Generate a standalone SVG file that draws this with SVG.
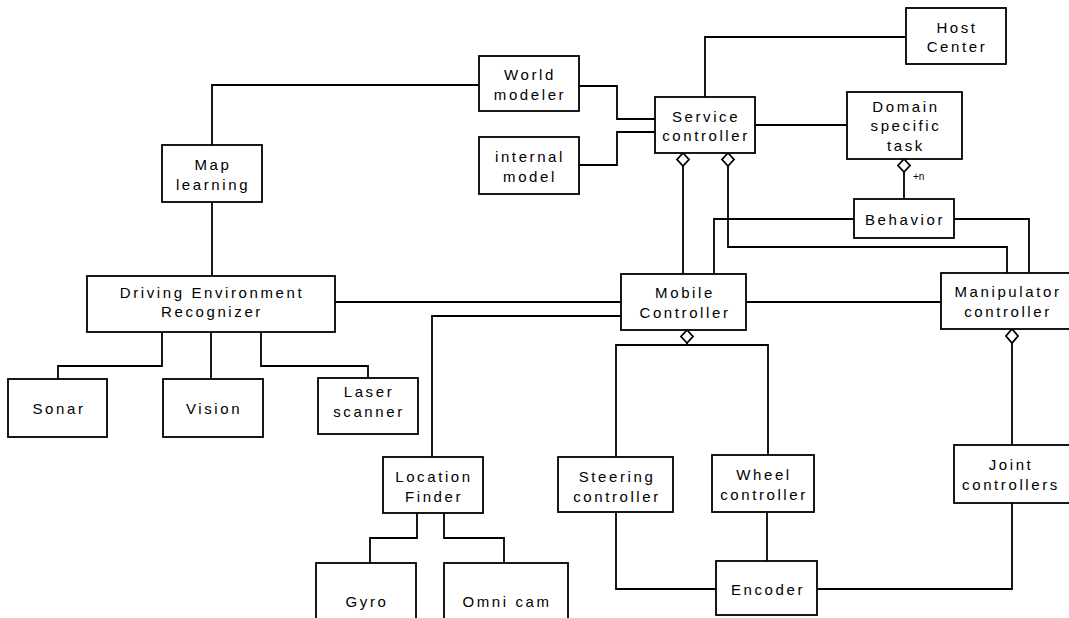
<svg xmlns="http://www.w3.org/2000/svg" width="1069" height="618" viewBox="0 0 1069 618">
<style>
.box{fill:#fff;stroke:#000;stroke-width:1.8}
.t{font-family:"Liberation Sans",Arial,sans-serif;font-size:15px;letter-spacing:2.6px;text-anchor:middle;fill:#000}
.s{font-family:"Liberation Sans",Arial,sans-serif;font-size:10px;fill:#000}
.c{fill:none;stroke:#000;stroke-width:1.8}
.d{fill:#fff;stroke:#000;stroke-width:1.8}
</style>
<rect width="1069" height="618" fill="#fff"/>
<g id="connectors">
<path class="c" d="M212,145 V85 H479"/>
<path class="c" d="M579,86 H617 V119 H655"/>
<path class="c" d="M579,165 H617 V132 H655"/>
<path class="c" d="M705,97 V37 H906"/>
<path class="c" d="M755,125 H847"/>
<path class="c" d="M683,166 V274"/>
<path class="c" d="M728,166 V247 H1007 V273"/>
<path class="c" d="M904,172 V199"/>
<path class="c" d="M854,219 H714 V274"/>
<path class="c" d="M954,219 H1029 V273"/>
<path class="c" d="M212,202 V276"/>
<path class="c" d="M335,302 H621"/>
<path class="c" d="M621,316 H432 V457"/>
<path class="c" d="M746,302 H941"/>
<path class="c" d="M162,332 V366 H58 V379"/>
<path class="c" d="M211,332 V379"/>
<path class="c" d="M261,332 V366 H368 V378"/>
<path class="c" d="M417,513 V538 H370 V563"/>
<path class="c" d="M444,513 V538 H504 V563"/>
<path class="c" d="M616,457 V345 H768 V455 M687,343 V345"/>
<path class="c" d="M616,512 V589 H716"/>
<path class="c" d="M767,512 V561"/>
<path class="c" d="M817,589 H1012 V503"/>
<path class="c" d="M1012,343 V445"/>
<path class="d" d="M683,153 L689,159.5 L683,166 L677,159.5 Z"/>
<path class="d" d="M728,153 L734,159.5 L728,166 L722,159.5 Z"/>
<path class="d" d="M904,159 L910,165.5 L904,172 L898,165.5 Z"/>
<path class="d" d="M687,330 L693,336.5 L687,343 L681,336.5 Z"/>
<path class="d" d="M1012,329 L1018,336 L1012,343 L1006,336 Z"/>
<text class="s" x="913" y="180">+n</text>
</g>
<g id="host-center"><rect class="box" x="906" y="8" width="100" height="56"/><text class="t" x="957" y="33">Host</text><text class="t" x="957" y="52">Center</text></g>
<g id="world-modeler"><rect class="box" x="479" y="56" width="100" height="55"/><text class="t" x="530" y="80">World</text><text class="t" x="530" y="100">modeler</text></g>
<g id="internal-model"><rect class="box" x="479" y="137" width="100" height="57"/><text class="t" x="530" y="162">internal</text><text class="t" x="530" y="182">model</text></g>
<g id="service-controller"><rect class="box" x="655" y="97" width="100" height="56"/><text class="t" x="706" y="122">Service</text><text class="t" x="706" y="141">controller</text></g>
<g id="domain-task"><rect class="box" x="847" y="92" width="115" height="67"/><text class="t" x="906" y="112">Domain</text><text class="t" x="906" y="131">specific</text><text class="t" x="906" y="151">task</text></g>
<g id="map-learning"><rect class="box" x="162" y="145" width="100" height="57"/><text class="t" x="213" y="170">Map</text><text class="t" x="213" y="190">learning</text></g>
<g id="behavior"><rect class="box" x="854" y="199" width="100" height="39"/><text class="t" x="905" y="225">Behavior</text></g>
<g id="driving-env"><rect class="box" x="87" y="276" width="248" height="56"/><text class="t" x="212" y="298">Driving Environment</text><text class="t" x="212" y="317">Recognizer</text></g>
<g id="mobile-controller"><rect class="box" x="621" y="274" width="125" height="56"/><text class="t" x="685" y="298">Mobile</text><text class="t" x="685" y="318">Controller</text></g>
<g id="manipulator-controller"><rect class="box" x="941" y="273" width="140" height="56"/><text class="t" x="1008" y="297">Manipulator</text><text class="t" x="1008" y="317">controller</text></g>
<g id="sonar"><rect class="box" x="8" y="379" width="99" height="58"/><text class="t" x="59" y="414">Sonar</text></g>
<g id="vision"><rect class="box" x="163" y="379" width="100" height="58"/><text class="t" x="214" y="414">Vision</text></g>
<g id="laser-scanner"><rect class="box" x="318" y="378" width="100" height="56"/><text class="t" x="369" y="397">Laser</text><text class="t" x="369" y="417">scanner</text></g>
<g id="location-finder"><rect class="box" x="383" y="457" width="100" height="56"/><text class="t" x="434" y="482">Location</text><text class="t" x="434" y="502">Finder</text></g>
<g id="steering-controller"><rect class="box" x="558" y="457" width="115" height="55"/><text class="t" x="617" y="482">Steering</text><text class="t" x="617" y="502">controller</text></g>
<g id="wheel-controller"><rect class="box" x="712" y="455" width="102" height="57"/><text class="t" x="764" y="480">Wheel</text><text class="t" x="764" y="500">controller</text></g>
<g id="joint-controllers"><rect class="box" x="954" y="445" width="125" height="58"/><text class="t" x="1011" y="470">Joint</text><text class="t" x="1011" y="490">controllers</text></g>
<g id="gyro"><rect class="box" x="316" y="563" width="100" height="70"/><text class="t" x="367" y="607">Gyro</text></g>
<g id="omnicam"><rect class="box" x="444" y="563" width="124" height="70"/><text class="t" x="507" y="607">Omni cam</text></g>
<g id="encoder"><rect class="box" x="716" y="561" width="101" height="54"/><text class="t" x="768" y="595">Encoder</text></g>
</svg>
